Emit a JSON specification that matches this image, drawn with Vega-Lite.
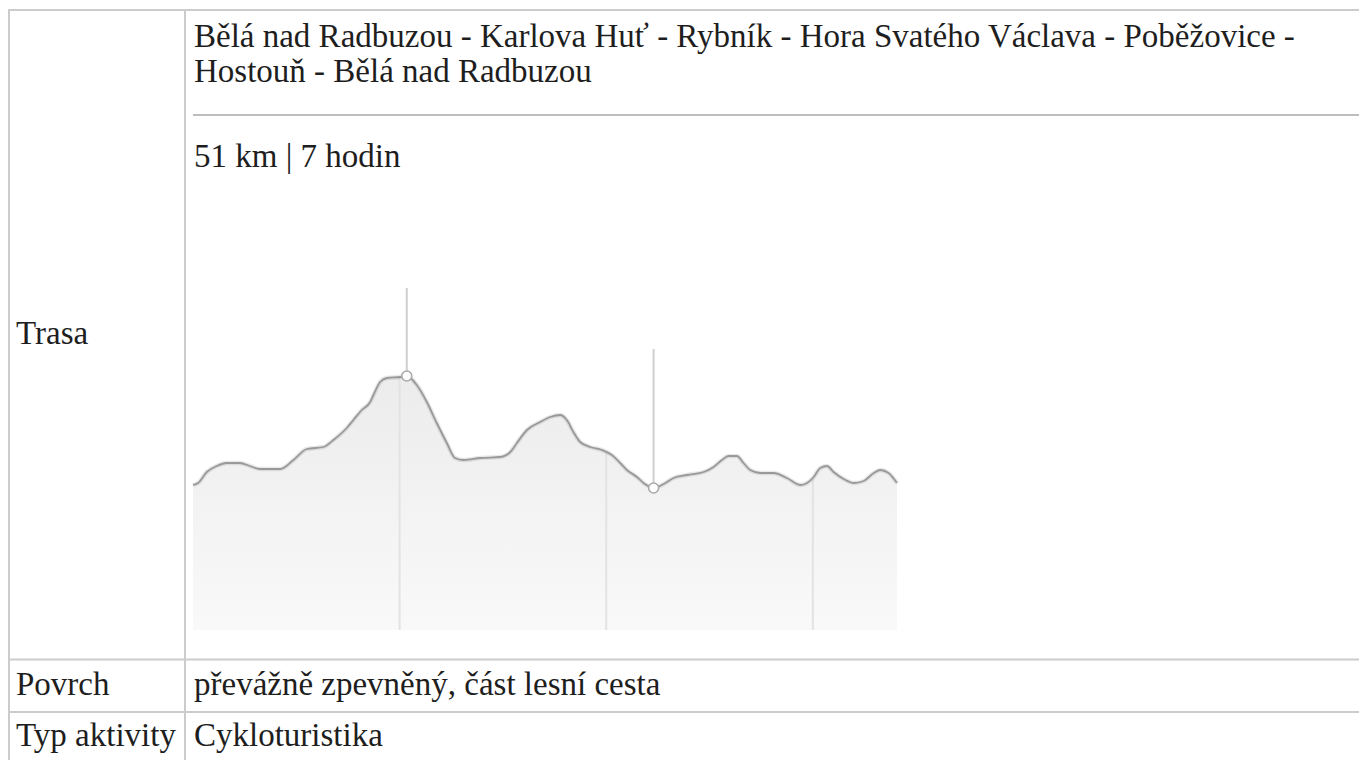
{
  "$schema": "https://vega.github.io/schema/vega-lite/v6.json",
  "width": 1359,
  "height": 760,
  "autosize": {"type": "fit", "contains": "padding"},
  "padding": 0,
  "background": "#ffffff",
  "config": {"view": {"stroke": null}, "font": "Liberation Serif"},
  "datasets": {
    "profile": [
      {"km": 0, "ele": 445}, {"km": 0.36, "ele": 447}, {"km": 1.0, "ele": 458}, {"km": 1.72, "ele": 464},
      {"km": 2.45, "ele": 467}, {"km": 3.41, "ele": 467}, {"km": 4.14, "ele": 464}, {"km": 4.87, "ele": 461},
      {"km": 6.32, "ele": 461}, {"km": 7.29, "ele": 470}, {"km": 8.26, "ele": 481}, {"km": 9.46, "ele": 483},
      {"km": 10.19, "ele": 490}, {"km": 11.16, "ele": 502}, {"km": 11.64, "ele": 510}, {"km": 12.25, "ele": 520},
      {"km": 12.86, "ele": 528}, {"km": 13.1, "ele": 535}, {"km": 13.58, "ele": 548}, {"km": 14.07, "ele": 552},
      {"km": 15.04, "ele": 553}, {"km": 15.52, "ele": 554}, {"km": 16.25, "ele": 545}, {"km": 16.98, "ele": 528},
      {"km": 17.7, "ele": 507}, {"km": 18.43, "ele": 487}, {"km": 19.03, "ele": 472}, {"km": 19.63, "ele": 470},
      {"km": 20.85, "ele": 472}, {"km": 22.3, "ele": 473}, {"km": 23.03, "ele": 478}, {"km": 23.51, "ele": 487},
      {"km": 24.24, "ele": 500}, {"km": 25.2, "ele": 508}, {"km": 25.93, "ele": 513}, {"km": 26.66, "ele": 515},
      {"km": 27.14, "ele": 510}, {"km": 27.62, "ele": 498}, {"km": 28.11, "ele": 488}, {"km": 28.84, "ele": 483},
      {"km": 29.69, "ele": 480}, {"km": 30.41, "ele": 475}, {"km": 31.02, "ele": 467}, {"km": 31.5, "ele": 460},
      {"km": 32.23, "ele": 453}, {"km": 32.71, "ele": 447}, {"km": 33.44, "ele": 442}, {"km": 34.16, "ele": 446},
      {"km": 34.89, "ele": 452}, {"km": 35.86, "ele": 455}, {"km": 37.07, "ele": 458}, {"km": 37.79, "ele": 463},
      {"km": 38.4, "ele": 470}, {"km": 38.88, "ele": 474}, {"km": 39.49, "ele": 474}, {"km": 39.97, "ele": 467},
      {"km": 40.46, "ele": 460}, {"km": 41.19, "ele": 457}, {"km": 42.15, "ele": 457}, {"km": 43.12, "ele": 452},
      {"km": 44.09, "ele": 445}, {"km": 44.58, "ele": 447}, {"km": 45.06, "ele": 453}, {"km": 45.54, "ele": 462},
      {"km": 46.03, "ele": 464}, {"km": 46.51, "ele": 458}, {"km": 47.24, "ele": 451}, {"km": 47.96, "ele": 447},
      {"km": 48.69, "ele": 449}, {"km": 49.42, "ele": 457}, {"km": 49.9, "ele": 460}, {"km": 50.5, "ele": 457},
      {"km": 51.11, "ele": 447}
    ],
    "extremes": [
      {"km": 15.52, "ele": 554, "stem": 642, "kind": "max"},
      {"km": 33.44, "ele": 442, "stem": 581, "kind": "min"}
    ],
    "grid": [{"km": 15, "base": 300, "top": 680}, {"km": 30, "base": 300, "top": 680}, {"km": 45, "base": 300, "top": 680}],
    "texts": [
      {"col": 2, "line": 1, "text": "Bělá nad Radbuzou - Karlova Huť - Rybník - Hora Svatého Václava - Poběžovice -"},
      {"col": 2, "line": 2, "text": "Hostouň - Bělá nad Radbuzou"},
      {"col": 2, "line": 3, "text": "51 km | 7 hodin"},
      {"col": 1, "line": 4, "text": "Trasa"},
      {"col": 1, "line": 5, "text": "Povrch"},
      {"col": 2, "line": 5, "text": "převážně zpevněný, část lesní cesta"},
      {"col": 1, "line": 6, "text": "Typ aktivity"},
      {"col": 2, "line": 6, "text": "Cykloturistika"}
    ],
    "hborders": [{"border": 1}, {"border": 2}, {"border": 3}],
    "vborders": [{"border": 1}, {"border": 2}],
    "separator": [{"border": 1}]
  },
  "resolve": {"scale": {"x": "independent", "y": "independent"}},
  "layer": [
    {
      "data": {"name": "hborders"},
      "mark": {"type": "rule", "color": "#cccccc", "strokeWidth": 2},
      "encoding": {
        "y": {"field": "border", "type": "quantitative", "axis": null,
              "scale": {"domain": [1, 2, 3], "range": [10, 659.5, 712], "zero": false, "nice": false}},
        "x": {"datum": 0, "type": "quantitative", "axis": null,
              "scale": {"domain": [0, 1], "range": [8, 1359], "zero": false, "nice": false}},
        "x2": {"datum": 1}
      }
    },
    {
      "data": {"name": "vborders"},
      "mark": {"type": "rule", "color": "#cccccc", "strokeWidth": 2},
      "encoding": {
        "x": {"field": "border", "type": "quantitative", "axis": null,
              "scale": {"domain": [1, 2], "range": [9, 185], "zero": false, "nice": false}},
        "y": {"datum": 0, "type": "quantitative", "axis": null,
              "scale": {"domain": [0, 1], "range": [9, 760], "zero": false, "nice": false}},
        "y2": {"datum": 1}
      }
    },
    {
      "data": {"name": "separator"},
      "mark": {"type": "rule", "color": "#a8a8a8", "strokeWidth": 1.5},
      "encoding": {
        "y": {"field": "border", "type": "quantitative", "axis": null,
              "scale": {"domain": [0, 1], "range": [0, 115], "zero": false, "nice": false}},
        "x": {"datum": 0, "type": "quantitative", "axis": null,
              "scale": {"domain": [0, 1], "range": [193, 1359], "zero": false, "nice": false}},
        "x2": {"datum": 1}
      }
    },
    {
      "data": {"name": "texts"},
      "mark": {"type": "text", "align": "left", "baseline": "alphabetic", "font": "Liberation Serif", "fontSize": 33, "color": "#1e1e1e"},
      "encoding": {
        "x": {"field": "col", "type": "quantitative", "axis": null,
              "scale": {"domain": [1, 2], "range": [16, 194], "zero": false, "nice": false}},
        "y": {"field": "line", "type": "quantitative", "axis": null,
              "scale": {"domain": [1, 2, 3, 4, 5, 6], "range": [47, 82, 167, 344, 695, 746], "zero": false, "nice": false}},
        "text": {"field": "text"}
      }
    },
    {
      "encoding": {
        "x": {"field": "km", "type": "quantitative", "axis": null,
              "scale": {"domain": [0, 51.11], "range": [193, 897], "zero": false, "nice": false}},
        "y": {"field": "ele", "type": "quantitative", "axis": null,
              "scale": {"domain": [300, 680], "range": [630, 250], "zero": false, "nice": false}}
      },
      "layer": [
        {
          "data": {"name": "profile"},
          "mark": {"type": "area", "interpolate": "monotone",
                   "fill": {"gradient": "linear", "x1": 0, "y1": 0, "x2": 0, "y2": 1,
                            "stops": [{"offset": 0, "color": "#ececec"}, {"offset": 1, "color": "#f9f9f9"}]}},
          "encoding": {"y2": {"datum": 300}}
        },
        {
          "data": {"name": "grid"},
          "mark": {"type": "rule", "color": "#e3e3e3", "strokeWidth": 2},
          "encoding": {"y": {"field": "base", "type": "quantitative"}, "y2": {"field": "top"}}
        },
        {
          "data": {"name": "profile"},
          "mark": {"type": "area", "interpolate": "monotone", "fill": "#ffffff"},
          "encoding": {"y2": {"datum": 680}}
        },
        {
          "data": {"name": "profile"},
          "mark": {"type": "line", "interpolate": "monotone", "stroke": "#000000", "strokeOpacity": 0.09, "strokeWidth": 4.5},
          "encoding": {}
        },
        {
          "data": {"name": "profile"},
          "mark": {"type": "line", "interpolate": "monotone", "stroke": "#999999", "strokeWidth": 1.8},
          "encoding": {}
        },
        {
          "data": {"name": "extremes"},
          "mark": {"type": "rule", "color": "#cfcfcf", "strokeWidth": 2},
          "encoding": {"y2": {"field": "stem"}}
        },
        {
          "data": {"name": "extremes"},
          "mark": {"type": "point", "filled": true, "fill": "#ffffff", "stroke": "#aaaaaa", "strokeWidth": 1.6, "size": 100, "opacity": 1},
          "encoding": {}
        }
      ]
    }
  ]
}
